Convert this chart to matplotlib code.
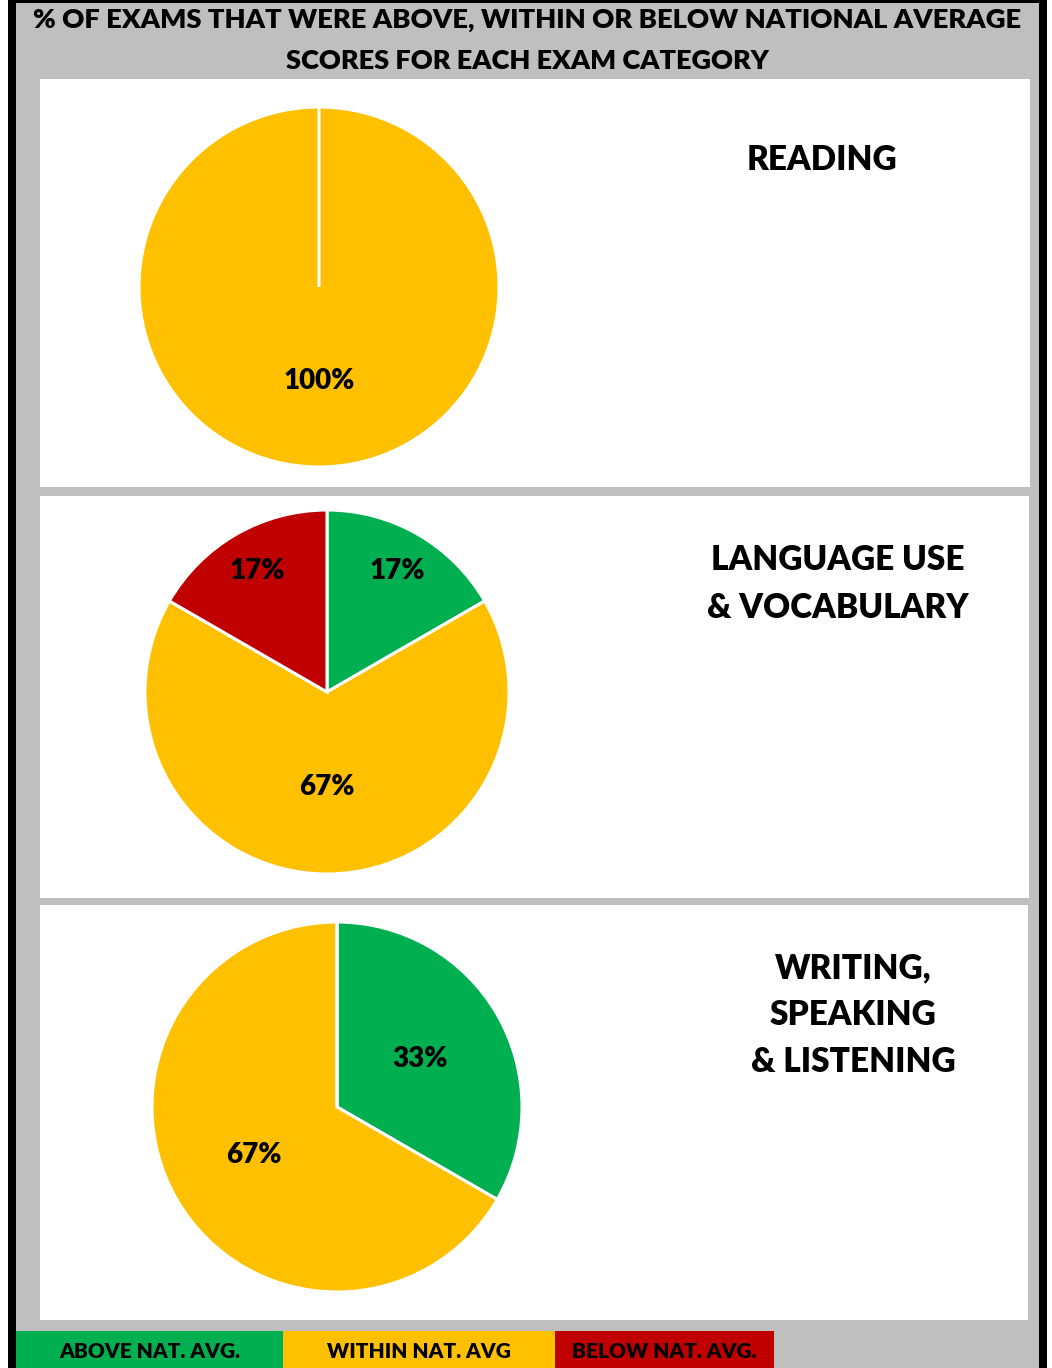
import math
import matplotlib
matplotlib.use("Agg")
import matplotlib.pyplot as plt
from matplotlib.patches import Rectangle

# ---- data ----
categories = ["READING", "LANGUAGE USE\n& VOCABULARY", "WRITING,\nSPEAKING\n& LISTENING"]
series_names = ["ABOVE NAT. AVG.", "WITHIN NAT. AVG", "BELOW NAT. AVG."]
reading = [0, 100, 0]
language = [16.67, 66.67, 16.67]
writing = [33.33, 66.67, 0]
title_lines = ["% OF EXAMS THAT WERE ABOVE, WITHIN OR BELOW NATIONAL AVERAGE",
               "SCORES FOR EACH EXAM CATEGORY"]

colors = ["#00B050", "#FFC000", "#C00000"]
GRAY = "#BFBFBF"
W, H = 1052, 1368
FONT = "Lato"
WEIGHT = "heavy"

fig = plt.figure(figsize=(W / 100, H / 100), dpi=100)
fig.patch.set_facecolor("white")
ax = fig.add_axes([0, 0, 1, 1])
ax.set_xlim(0, W)
ax.set_ylim(0, H)
ax.axis("off")


def rect(x, y, w, h, color, z=0):
    ax.add_patch(Rectangle((x, H - y - h), w, h, facecolor=color, edgecolor="none", zorder=z))


def text(x, y, s, size, z=6):
    ax.text(x, H - y, s, fontsize=size, fontweight=WEIGHT, family=FONT,
            ha="center", va="center", color="black", zorder=z)


# frame
rect(8, 0, 1039, H, "black", 0)
rect(16, 3, 1023, H - 3, GRAY, 1)

# title
text(527, 20, title_lines[0], 19.7, z=2)
text(527, 61, title_lines[1], 19.5, z=2)
rect(8, 0, 1039, 3, "black", 2.5)

# panels
panels = [(40, 79, 990, 408), (40, 496, 989, 402), (40, 905, 988, 415)]
for (x, y, w, h) in panels:
    rect(x, y, w, h, "white", 2)

pies = [
    (reading, (319, 287), 180, (822, 160)),
    (language, (327, 692), 182, (838, 584)),
    (writing, (337, 1107), 185, (853, 1015)),
]

for (vals, (cx, cy), r, (tx, ty)), cat in zip(pies, categories):
    wedges, _ = ax.pie(vals, colors=colors, startangle=90, counterclock=False,
                       center=(cx, H - cy), radius=r, frame=True,
                       wedgeprops=dict(edgecolor="white", linewidth=2.2))
    for wdg, v in zip(wedges, vals):
        wdg.set_zorder(3)
        if v <= 0:
            continue
        mid = math.radians((wdg.theta1 + wdg.theta2) / 2)
        d = 0.77 if v < 25 else 0.52
        ax.text(cx + d * r * math.cos(mid), H - cy + d * r * math.sin(mid),
                f"{v:.0f}%", fontsize=20, fontweight=WEIGHT, family=FONT,
                ha="center", va="center", zorder=6)
    lines = cat.split("\n")
    step = 47
    y0 = ty - step * (len(lines) - 1) / 2
    for i, ln in enumerate(lines):
        text(tx, y0 + i * step, ln, 24)

ax.set_xlim(0, W)
ax.set_ylim(0, H)
ax.set_aspect("auto")

# legend
leg = [(16, 267), (283, 272), (555, 219)]
for (lx, lw), c, name in zip(leg, colors, series_names):
    rect(lx, 1331, lw, H - 1331, c, 4)
    text(lx + lw / 2, 1351, name, 15)

fig.savefig("out.png", dpi=100)
